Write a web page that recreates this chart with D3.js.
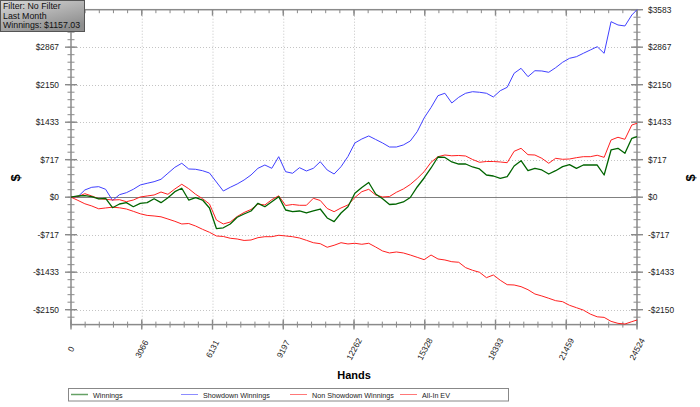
<!DOCTYPE html>
<html><head><meta charset="utf-8">
<script src="https://cdn.jsdelivr.net/npm/d3@7"></script>
<style>body{margin:0;background:#fff}svg{display:block;font-family:"Liberation Sans",Arial,sans-serif}</style>
</head><body><svg id="c" width="700" height="407"></svg>
<script>
const hands = [0,300,600,900,1200,1500,1800,2100,2400,2700,3000,3300,3600,3900,4200,4500,4800,5100,5400,5700,6000,6300,6600,6900,7200,7500,7800,8100,8400,8700,9000,9300,9600,9900,10200,10500,10800,11100,11400,11700,12000,12300,12600,12900,13200,13500,13800,14100,14400,14700,15000,15300,15600,15900,16200,16500,16800,17100,17400,17700,18000,18300,18600,18900,19200,19500,19800,20100,20400,20700,21000,21300,21600,21900,22200,22500,22800,23100,23400,23700,24000,24300,24524];
const winnings = [0,23,29,10,-34,-21,-201,-130,-105,-182,-117,-105,-29,-105,-10,105,170,-54,-10,-54,-206,-600,-585,-512,-384,-321,-264,-117,-182,-86,10,-245,-277,-264,-302,-264,-226,-397,-468,-302,-182,75,185,281,61,-29,-140,-130,-92,-6,195,367,558,768,759,673,634,634,577,539,424,405,361,392,596,698,506,552,520,443,506,583,621,552,615,615,615,424,902,934,839,1126,1157];
const showdown = [0,10,138,189,201,151,-63,48,86,151,233,266,296,342,457,571,648,539,533,506,462,290,118,189,252,329,424,552,615,552,774,487,457,564,501,552,678,520,443,583,778,1036,1112,1170,1103,1036,959,959,998,1074,1252,1514,1714,1940,1986,1800,1909,1986,2016,2005,1986,1915,2035,2100,2368,2463,2303,2417,2412,2387,2475,2578,2654,2685,2750,2813,2876,2750,3354,3291,3272,3482,3583];
const nonShowdown = [0,-61,-126,-168,-222,-206,-191,-203,-226,-270,-317,-348,-359,-375,-417,-461,-512,-503,-551,-614,-671,-741,-751,-785,-799,-827,-818,-774,-755,-755,-728,-741,-755,-780,-824,-870,-889,-957,-919,-870,-894,-881,-900,-881,-952,-1028,-1066,-1047,-1066,-1105,-1149,-1194,-1105,-1181,-1200,-1233,-1244,-1347,-1397,-1435,-1538,-1487,-1588,-1672,-1678,-1710,-1768,-1850,-1888,-1932,-1978,-1997,-2066,-2112,-2158,-2234,-2286,-2297,-2373,-2411,-2424,-2379,-2347];
const allInEV = [0,10,67,23,-29,-40,-54,-48,-86,-54,4,23,42,99,55,157,247,162,55,-29,-130,-436,-512,-474,-369,-292,-235,-130,-149,-48,27,-159,-140,-155,-155,-21,-63,-216,-277,-206,-149,-6,105,151,42,4,13,94,157,243,357,487,667,774,806,791,797,787,720,667,682,682,673,659,877,934,812,806,743,648,743,724,730,755,774,774,801,762,1093,1145,1106,1380,1412];
const xTickLabels = [0,3066,6131,9197,12262,15328,18393,21459,24524];
const yTickLabels = [-2150,-1433,-717,0,717,1433,2150,2867,3583];
const seriesNames = ["Winnings","Showdown Winnings","Non Showdown Winnings","All-In EV"];
const seriesColors = ["#006400","#4040ff","#ff2020","#ff2020"];
const infoLines = ["Filter: No Filter","Last Month","Winnings: $1157.03"];
const xTitle = "Hands", yTitle = "$";

const svg = d3.select("#c");
const x = d3.scaleLinear().domain([0,24524]).range([71,637]);
const y = d3.scaleLinear().domain([-2435,3583]).range([324.6,9.7]);
const [x0,x1] = x.range(), [yb,yt] = y.range();

// grid
const g = svg.append("g");
g.selectAll(".vg").data(xTickLabels.slice(1,-1)).join("line")
  .attr("x1",d=>x(d)+0.5).attr("x2",d=>x(d)+0.5).attr("y1",yt).attr("y2",yb)
  .attr("stroke","#c4c4c4").attr("stroke-dasharray","1,2");
g.selectAll(".hg").data(yTickLabels.filter(d=>d!==0 && d!==3583)).join("line")
  .attr("x1",x0).attr("x2",x1).attr("y1",d=>Math.round(y(d))+0.5).attr("y2",d=>Math.round(y(d))+0.5)
  .attr("stroke","#c4c4c4").attr("stroke-dasharray","1,2");
g.append("line").attr("x1",x0).attr("x2",x1).attr("y1",Math.round(y(0))+0.5).attr("y2",Math.round(y(0))+0.5)
  .attr("stroke","#808080").attr("stroke-width",1.2);

// frame + ticks
const ax = svg.append("g").attr("stroke","#8a8a8a").attr("fill","none");
ax.append("rect").attr("x",x0).attr("y",yt).attr("width",x1-x0).attr("height",yb-yt).attr("stroke-width",1.5);
const yMinor = d3.range(-17,26).map(k=>k*3583/25).filter(v=>v>=-2435&&v<=3583);
const xMinor = d3.range(0,41).map(k=>k*24524/40);
[x0,x1].forEach(px=>{
  ax.selectAll(null).data(yMinor).join("line").attr("x1",px-3.5).attr("x2",px+3.5)
    .attr("y1",d=>y(d)).attr("y2",d=>y(d));
  ax.selectAll(null).data(yTickLabels).join("line").attr("x1",px-6).attr("x2",px+6)
    .attr("y1",d=>y(d)).attr("y2",d=>y(d)).attr("stroke-width",1.4);
});
ax.selectAll(null).data(xMinor).join("line").attr("x1",d=>x(d)).attr("x2",d=>x(d)).attr("y1",yb-3).attr("y2",yb+3);
ax.selectAll(null).data(xTickLabels).join("line").attr("x1",d=>x(d)).attr("x2",d=>x(d)).attr("y1",yb-5).attr("y2",yb+5).attr("stroke-width",1.4);
ax.selectAll(null).data(xMinor).join("line").attr("x1",d=>x(d)).attr("x2",d=>x(d)).attr("y1",yt).attr("y2",yt+3.5);
ax.selectAll(null).data(xTickLabels).join("line").attr("x1",d=>x(d)).attr("x2",d=>x(d)).attr("y1",yt).attr("y2",yt+6).attr("stroke-width",1.4);

// tick labels
const fmt = v => (v<0?"-$":"$")+Math.abs(v);
svg.selectAll(".yl").data(yTickLabels.filter(d=>d!==3583)).join("text")
  .attr("x",59).attr("y",d=>y(d)+3).attr("text-anchor","end").attr("font-size",8.4).attr("fill","#222").text(fmt);
svg.selectAll(".yr").data(yTickLabels).join("text")
  .attr("x",648).attr("y",d=>y(d)+3).attr("text-anchor","start").attr("font-size",8.4).attr("fill","#222").text(fmt);
svg.selectAll(".xl").data(xTickLabels).join("text")
  .attr("transform",d=>`translate(${x(d)},349) rotate(-62)`).attr("text-anchor","middle").attr("dy","0.35em")
  .attr("font-size",8.4).attr("fill","#222").text(d=>d);

// titles
svg.append("text").attr("x",(x0+x1)/2).attr("y",379).attr("text-anchor","middle").attr("font-weight","bold").attr("font-size",11).text(xTitle);
[[15,178],[690,178]].forEach(([px,py])=>svg.append("text").attr("transform",`translate(${px},${py}) rotate(-90)`)
  .attr("text-anchor","middle").attr("dy","0.35em").attr("font-weight","bold").attr("font-size",13).text(yTitle));

// series
const data = [winnings, showdown, nonShowdown, allInEV];
const line = d3.line().x((d,i)=>x(hands[i])).y(d=>y(d));
const order = [1,2,3,0];
const sw = [1.3,1,1,1];
svg.append("g").selectAll("path").data(order).join("path")
  .attr("d",i=>line(data[i])).attr("fill","none").attr("stroke",i=>seriesColors[i]).attr("stroke-width",i=>sw[i])
  .attr("stroke-linejoin","round");

// info box
const defs = svg.append("defs");
const gr = defs.append("linearGradient").attr("id","ib").attr("x1",0).attr("y1",0).attr("x2",0.6).attr("y2",1);
gr.append("stop").attr("offset","0%").attr("stop-color","#d8d8d8");
gr.append("stop").attr("offset","100%").attr("stop-color","#8e8e8e");
svg.append("rect").attr("x",0.5).attr("y",0.5).attr("width",84).attr("height",31).attr("fill","url(#ib)").attr("stroke","#555");
svg.selectAll(".il").data(infoLines).join("text").attr("x",3).attr("y",(d,i)=>9+i*9.6)
  .attr("font-size",8.8).attr("fill","#111").text(d=>d);

// legend
const lg = svg.append("g");
lg.append("rect").attr("x",68.5).attr("y",388.5).attr("width",440).attr("height",12.5).attr("fill","#fff").attr("stroke","#888");
const lx = [71,181,290,400];
lg.selectAll("line").data(seriesNames).join("line").attr("x1",(d,i)=>lx[i]).attr("x2",(d,i)=>lx[i]+17)
  .attr("y1",394.5).attr("y2",394.5).attr("stroke",(d,i)=>seriesColors[i]).attr("stroke-width",(d,i)=>i===0?1.5:1).attr("opacity",0.6);
lg.selectAll("text").data(seriesNames).join("text").attr("x",(d,i)=>lx[i]+22).attr("y",397.5)
  .attr("font-size",7.2).attr("fill","#222").text(d=>d);
</script></body></html>
